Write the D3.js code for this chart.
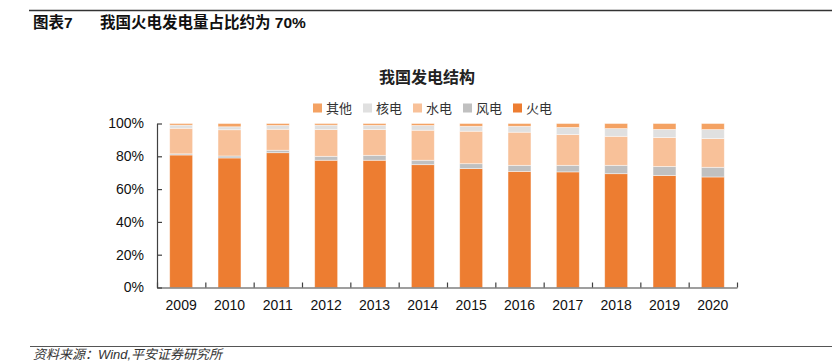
<!DOCTYPE html>
<html>
<head>
<meta charset="utf-8">
<script src="https://cdn.jsdelivr.net/npm/d3@7"></script>
<style>
  body { margin: 0; background: #fff; }
  text { font-family: "Liberation Sans", Arial, "Noto Sans CJK SC", sans-serif; }
</style>
</head>
<body>
<script>
// Data (percent of total generation)
var years   = ["2009", "2010", "2011", "2012", "2013", "2014", "2015", "2016", "2017", "2018", "2019", "2020"];
var thermal = [80.8, 79.0, 82.2, 77.6, 77.6, 74.9, 72.5, 70.8, 70.5, 69.4, 68.3, 67.4];
var wind    = [0.7, 1.2, 1.5, 2.4, 3.0, 2.7, 3.0, 3.7, 4.0, 5.1, 5.5, 5.9];
var hydro   = [15.6, 16.0, 12.8, 16.3, 15.7, 18.3, 19.8, 20.2, 18.8, 17.7, 17.7, 17.5];
var nuclear = [1.9, 1.8, 2.3, 2.7, 2.6, 2.9, 3.0, 3.6, 4.3, 4.7, 4.9, 5.5];
var other   = [1.0, 2.0, 1.2, 1.0, 1.1, 1.2, 1.7, 1.7, 2.4, 3.1, 3.6, 3.7];
var yTicks  = [0, 20, 40, 60, 80, 100];

// series from bottom to top, legend shows them top to bottom
var keys   = ["火电", "风电", "水电", "核电", "其他"];
var colors = ["#ED7D31", "#C0C0C0", "#F8C199", "#E0E0E0", "#F4A263"];
var legendKeys = ["其他", "核电", "水电", "风电", "火电"];

var table = years.map(function(y, i) {
  return { year: y, "火电": thermal[i], "风电": wind[i], "水电": hydro[i], "核电": nuclear[i], "其他": other[i] };
});

var W = 832, H = 364;
var svg = d3.select("body").append("svg")
  .attr("width", W)
  .attr("height", H);

// page header
svg.append("line")
  .attr("x1", 29).attr("x2", W).attr("y1", 10.5).attr("y2", 10.5)
  .attr("stroke", "#333").attr("stroke-width", 1.6);
svg.append("text")
  .attr("x", 33).attr("y", 28)
  .style("font-size", "15.5px").style("font-weight", "bold").attr("fill", "#111")
  .text("图表7");
svg.append("text")
  .attr("x", 100).attr("y", 28)
  .style("font-size", "15.5px").style("font-weight", "bold").attr("fill", "#111")
  .text("我国火电发电量占比约为 70%");

// footer
svg.append("line")
  .attr("x1", 30).attr("x2", W).attr("y1", 346.5).attr("y2", 346.5)
  .attr("stroke", "#555").attr("stroke-width", 1.2);
svg.append("text")
  .attr("x", 33).attr("y", 359)
  .style("font-size", "13px").style("font-style", "italic").attr("fill", "#333")
  .text("资料来源：Wind,平安证券研究所");

// chart title
svg.append("text")
  .attr("x", 427).attr("y", 82.5)
  .attr("text-anchor", "middle")
  .style("font-size", "16px").style("font-weight", "bold").attr("fill", "#222")
  .text("我国发电结构");

// legend
var legend = svg.append("g").attr("transform", "translate(313,103.5)");
var item = legend.selectAll("g")
  .data(legendKeys)
  .enter().append("g")
    .attr("transform", function(d, i) { return "translate(" + (i * 50) + ",0)"; });
item.append("rect")
  .attr("width", 9).attr("height", 9)
  .attr("fill", function(d) { return colors[keys.indexOf(d)]; });
item.append("text")
  .attr("x", 13).attr("y", 4.5)
  .attr("dominant-baseline", "central")
  .style("font-size", "13px").attr("fill", "#333")
  .text(function(d) { return d; });

// plot area
var margin = {top: 123.5, left: 157, right: 95, bottom: 76.5};
var width = W - margin.left - margin.right,
    height = H - margin.top - margin.bottom;
var g = svg.append("g")
  .attr("transform", "translate(" + margin.left + "," + margin.top + ")");

var x = d3.scaleBand().domain(years).range([0, width]).padding(0);
var xEdge = d3.scaleLinear().domain([0, years.length]).range([0, width]);
var y = d3.scaleLinear().domain([0, 100]).range([height, 0]);

var stack = d3.stack().keys(keys);
var series = stack(table);

var barW = x.bandwidth() * 0.475;
g.append("g")
  .selectAll("g")
  .data(series)
  .enter().append("g")
    .attr("fill", function(d, i) { return colors[i]; })
  .selectAll("rect")
  .data(function(d) { return d; })
  .enter().append("rect")
    .attr("x", function(d) { return x(d.data.year) + (x.bandwidth() - barW) / 2; })
    .attr("y", function(d) { return y(d[1]); })
    .attr("height", function(d) { return y(d[0]) - y(d[1]); })
    .attr("width", barW)
    .attr("stroke", "#fff")
    .attr("stroke-opacity", 0.55)
    .attr("stroke-width", 0.8);

// Y axis, ticks pointing inward
var yAxis = g.append("g")
  .call(d3.axisLeft(y)
    .tickValues(yTicks)
    .tickSizeInner(-5)
    .tickSizeOuter(0)
    .tickPadding(13)
    .tickFormat(function(d) { return d + "%"; }));

// X axis: boundary ticks then year labels
var xAxis = g.append("g")
  .attr("transform", "translate(0," + height + ")")
  .call(d3.axisBottom(xEdge)
    .tickValues(d3.range(years.length + 1))
    .tickSizeInner(-5)
    .tickSizeOuter(0)
    .tickFormat(""));
var xLabels = g.append("g")
  .attr("transform", "translate(0," + height + ")")
  .call(d3.axisBottom(x).tickSize(0).tickPadding(13));
xLabels.select(".domain").remove();

[yAxis, xAxis, xLabels].forEach(function(a) {
  a.selectAll("path, line").attr("stroke", "#404040").attr("stroke-width", 1.2);
  a.selectAll("text")
    .style("font-size", "14px")
    .style("font-family", "\"Liberation Sans\", Arial, sans-serif")
    .attr("fill", "#111");
});
</script>
</body>
</html>
